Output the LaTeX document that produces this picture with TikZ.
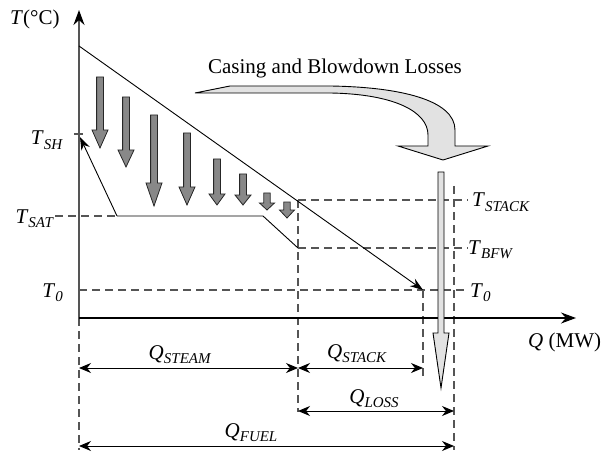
\documentclass[tikz,border=0pt]{standalone}
\usepackage{fontspec}
\setmainfont{Liberation Serif}
\usetikzlibrary{arrows.meta}
\definecolor{axisgray}{RGB}{85,85,85}
\definecolor{arrgray}{RGB}{136,136,136}
\definecolor{lightfill}{RGB}{226,226,226}
\newcommand\subl[2]{\textit{#1}{\fontsize{15}{15}\selectfont\raisebox{-4.5pt}{\textit{#2}}}}
\begin{document}
\begin{tikzpicture}[x=1pt,y=-1pt,
  lbl/.style={inner sep=0pt, font=\fontsize{21}{25}\selectfont},
  taxis/.style={draw=axisgray, line width=1.6pt, -{Stealth[length=15pt,width=11pt,color=black]}},
  qaxis/.style={draw=black, line width=1.1pt, -{Stealth[length=15pt,width=11pt]}},
  guide/.style={draw=axisgray, line width=1.1pt, dash pattern=on 8pt off 5pt},
  dimarr/.style={line width=1pt, {Stealth[length=12pt,width=10pt]}-{Stealth[length=12pt,width=10pt]}},
  thin/.style={line width=0.9pt},
  heatarr/.style={fill=arrgray, draw=black!85, line width=0.8pt},
  lossarr/.style={fill=lightfill, draw=black, line width=0.9pt}]
\useasboundingbox (0,0) rectangle (601,454);
% key points
\coordinate (O) at (79,318);
\coordinate (Ttop) at (79,10);
\coordinate (Qend) at (576,318);
\coordinate (H0) at (79,46);
\coordinate (Hend) at (423,290);
\coordinate (C0) at (117,216);
\coordinate (Csh) at (80,137);
\coordinate (Ckink) at (263,216);
\coordinate (Cend) at (298,248);
\coordinate (SATl) at (55,216);
\coordinate (SHa) at (74,134);
\coordinate (SHb) at (83,134);
\coordinate (T0a) at (79,290);
\coordinate (T0b) at (468,290);
\coordinate (STa) at (298,200);
\coordinate (STb) at (468,200);
\coordinate (BFa) at (298,248);
\coordinate (BFb) at (468,248);
\coordinate (V1) at (79,450);
\coordinate (V2) at (298,412);
\coordinate (V3a) at (423,290);
\coordinate (V3b) at (423,380);
\coordinate (V4a) at (454,186);
\coordinate (V4b) at (454,450);
\coordinate (D1a) at (79,368);
\coordinate (D1b) at (298,368);
\coordinate (D2b) at (423,368);
\coordinate (D3a) at (298,411);
\coordinate (D3b) at (454,411);
\coordinate (D4a) at (79,446);
\coordinate (D4b) at (454,446);
% guides
\draw[guide] (SATl) -- (C0);
\draw[guide] (T0a) -- (T0b);
\draw[guide] (STa) -- (STb);
\draw[guide] (BFa) -- (BFb);
\draw[guide] (O) -- (V1);
\draw[guide] (STa) -- (V2);
\draw[guide] (V3a) -- (V3b);
\draw[guide] (V4a) -- (V4b);
% axes
\draw[taxis] (O) -- (Ttop);
\draw[qaxis] (O) -- (Qend);
\draw[draw=axisgray, line width=1.2pt] (SHa) -- (SHb);
% lines
\draw[thin, -{Stealth[length=13pt,width=9pt]}] (H0) -- (Hend);
\draw[thin] (C0) -- (Ckink) -- (Cend);
\draw[thin, -{Stealth[length=13pt,width=9pt]}] (C0) -- (Csh);
% heat transfer arrows
\foreach \x/\t/\b/\p/\s/\h in {100/77/130/148/3.4/8, 126/97/150/167/3.4/8, 154/115/183/206/3.4/8, 187/133/187/205/3.4/8, 217/159/194/205/3.4/8, 243/174/195/205/3.4/8, 267/193/203/210/3.2/7.5, 287/202/210/218/3.2/7.5}
  \draw[heatarr] (\x-\s,\t) -- (\x+\s,\t) -- (\x+\s,\b) -- (\x+\h,\b) -- (\x,\p) -- (\x-\h,\b) -- (\x-\s,\b) -- cycle;
% casing and blowdown loss arrow
\draw[lossarr] (195,93) -- (230,86) -- (330,86) .. controls (400,87) and (455,100) .. (455,130) -- (455,146)
  -- (488,146) -- (443,160) -- (398,146) -- (428,146) -- (428,135)
  .. controls (428,112) and (395,94) .. (330,93) -- cycle;
\draw[lossarr] (438,172) -- (444,172) -- (444,333) -- (449,333) -- (441,388) -- (433,333) -- (438,333) -- cycle;
% dimension arrows
\draw[dimarr] (D1a) -- (D1b);
\draw[dimarr] (D1b) -- (D2b);
\draw[dimarr] (D3a) -- (D3b);
\draw[dimarr] (D4a) -- (D4b);
% labels
\node[lbl, anchor=base west] (tlab) at (10,25) {\textit{T}(°C)};
\node[lbl, anchor=base west] (qlab) at (528,347) {\textit{Q} (MW)};
\node[lbl, anchor=base] (casing) at (335,74) {Casing and Blowdown Losses};
\node[lbl, anchor=base east] (tsh) at (63,145) {\subl{T}{SH}};
\node[lbl, anchor=base east] (tsat) at (54,223) {\subl{T}{SAT}};
\node[lbl, anchor=base east] (t0l) at (63,297) {\subl{T}{0}};
\node[lbl, anchor=base west] (tstack) at (472,207) {\subl{T}{STACK}};
\node[lbl, anchor=base west] (tbfw) at (468,254) {\subl{T}{BFW}};
\node[lbl, anchor=base west] (t0r) at (470,297) {\subl{T}{0}};
\node[lbl, anchor=base] (qsteam) at (180,359) {\subl{Q}{STEAM}};
\node[lbl, anchor=base] (qstack) at (357,358) {\subl{Q}{STACK}};
\node[lbl, anchor=base] (qloss) at (374,403) {\subl{Q}{LOSS}};
\node[lbl, anchor=base] (qfuel) at (251,437) {\subl{Q}{FUEL}};
\end{tikzpicture}
\end{document}
